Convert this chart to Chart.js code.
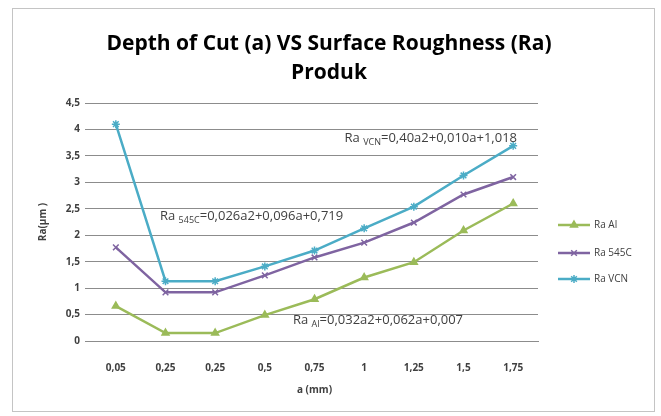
<!DOCTYPE html>
<html lang="en">
<head>
<meta charset="UTF-8">
<title>Depth of Cut (a) VS Surface Roughness (Ra)</title>
<style>
    body { margin: 0; padding: 0; background: #fff; }
    .chart-box { position: relative; width: 661px; height: 416px; }
    .frame {
        position: absolute; left: 12px; top: 8px; width: 641px; height: 402px;
        border: 1px solid #c4c4c4; pointer-events: none;
    }
</style>
<script src="https://cdn.jsdelivr.net/npm/chart.js"></script>
</head>
<body>
<div class="chart-box">
    <canvas id="raChart" width="661" height="416"></canvas>
    <div class="frame"></div>
</div>
<script>
// depth of cut a (mm) - labels as printed on the chart
const depthLabels = ['0,05', '0,25', '0,25', '0,5', '0,75', '1', '1,25', '1,5', '1,75'];

// surface roughness Ra (um)
const raAl   = [0.66, 0.15, 0.15, 0.49, 0.79, 1.20, 1.49, 2.09, 2.60];
const ra545c = [1.77, 0.92, 0.92, 1.24, 1.58, 1.86, 2.24, 2.77, 3.10];
const raVcn  = [4.10, 1.13, 1.13, 1.41, 1.71, 2.13, 2.54, 3.13, 3.69];

const seriesNames = ['Ra Al', 'Ra 545C', 'Ra VCN'];
const yTickMax = 4.5;
const yTickStep = 0.5;

const FONT = '"Open Sans", "Noto Sans", Arial, sans-serif';
const TEXT = '#404040';
const GRID = '#8c8c8c';

// regression equations written on the plot
const equations = [
    { sub: 'VCN', rest: '=0,40a2+0,010a+1,018', x: 517, y: 138, align: 'right' },
    { sub: '545C', rest: '=0,026a2+0,096a+0,719', x: 160, y: 216, align: 'left' },
    { sub: 'Al', rest: '=0,032a2+0,062a+0,007', x: 293, y: 320, align: 'left' }
];

function drawEquation(ctx, eq) {
    const big = '13px ' + FONT;
    const small = '9px ' + FONT;
    ctx.font = big;
    const w1 = ctx.measureText('Ra ').width;
    const w3 = ctx.measureText(eq.rest).width;
    ctx.font = small;
    const w2 = ctx.measureText(eq.sub).width;
    let x = eq.align === 'right' ? eq.x - (w1 + w2 + w3) : eq.x;
    ctx.fillStyle = TEXT;
    ctx.textBaseline = 'middle';
    ctx.textAlign = 'left';
    ctx.font = big;
    ctx.fillText('Ra ', x, eq.y);
    ctx.font = small;
    ctx.fillText(eq.sub, x + w1, eq.y + 4);
    ctx.font = big;
    ctx.fillText(eq.rest, x + w1 + w2, eq.y);
}

const extras = {
    id: 'extras',
    afterDraw(chart) {
        const ctx = chart.ctx;
        ctx.save();

        // title
        ctx.fillStyle = '#000';
        ctx.textAlign = 'center';
        ctx.textBaseline = 'middle';
        ctx.font = 'bold 21px ' + FONT;
        ctx.fillText('Depth of Cut (a) VS Surface Roughness (Ra)', 329, 44);
        ctx.fillText('Produk', 329, 73);

        // equations
        equations.forEach(eq => drawEquation(ctx, eq));

        // legend: line with marker, like Excel
        const legendY = [225, 253, 279];
        chart.data.datasets.forEach((ds, i) => {
            const y = legendY[i];
            ctx.strokeStyle = ds.borderColor;
            ctx.lineWidth = 2.5;
            ctx.beginPath();
            ctx.moveTo(558, y);
            ctx.lineTo(590, y);
            ctx.stroke();
            ctx.lineWidth = 1.5;
            ctx.fillStyle = ds.borderColor;
            Chart.helpers.drawPoint(ctx, {
                pointStyle: ds.pointStyle,
                radius: 4,
                borderWidth: 1.5,
                rotation: 0
            }, 574, y);
            ctx.fillStyle = TEXT;
            ctx.font = '10px ' + FONT;
            ctx.textAlign = 'left';
            ctx.textBaseline = 'middle';
            ctx.fillText(ds.label, 594, y);
        });
        ctx.restore();
    }
};

function makeSet(label, data, color, style) {
    return {
        label: label,
        data: data,
        borderColor: color,
        backgroundColor: color,
        borderWidth: 2.5,
        tension: 0,
        pointStyle: style,
        pointRadius: 4,
        pointBorderWidth: 1.5,
        pointBackgroundColor: color,
        pointBorderColor: color
    };
}

const ctx = document.getElementById('raChart').getContext('2d');
new Chart(ctx, {
    type: 'line',
    data: {
        labels: depthLabels,
        datasets: [
            makeSet(seriesNames[0], raAl, '#9bbb59', 'triangle'),
            makeSet(seriesNames[1], ra545c, '#7f64a1', 'crossRot'),
            makeSet(seriesNames[2], raVcn, '#4bacc6', 'star')
        ]
    },
    options: {
        responsive: false,
        animation: false,
        layout: { padding: { left: 30, right: 123, top: 103, bottom: 20 } },
        plugins: {
            legend: { display: false },
            title: { display: false },
            tooltip: { enabled: false }
        },
        scales: {
            x: {
                offset: true,
                grid: { display: false, drawTicks: false },
                border: { display: true, color: GRID, width: 1 },
                ticks: {
                    padding: 21,
                    color: TEXT,
                    font: { family: FONT, size: 10, weight: 'bold' },
                    maxRotation: 0,
                    autoSkip: false
                },
                title: {
                    display: true,
                    text: 'a (mm)',
                    color: TEXT,
                    padding: 0,
                    font: { family: FONT, size: 10, weight: 'bold' }
                },
                afterFit(scale) { scale.height = 55; }
            },
            y: {
                min: 0,
                max: yTickMax,
                grid: { color: GRID, tickLength: 6, drawTicks: true },
                border: { display: false },
                ticks: {
                    stepSize: yTickStep,
                    padding: 5,
                    color: TEXT,
                    font: { family: FONT, size: 10, weight: 'bold' },
                    callback: v => String(v).replace('.', ',')
                },
                title: {
                    display: true,
                    text: 'Ra(µm )',
                    color: TEXT,
                    padding: { top: 7, bottom: 0 },
                    font: { family: FONT, size: 10, weight: 'bold' }
                },
                afterFit(scale) { scale.width = 61; }
            }
        }
    },
    plugins: [extras]
});
</script>
</body>
</html>
